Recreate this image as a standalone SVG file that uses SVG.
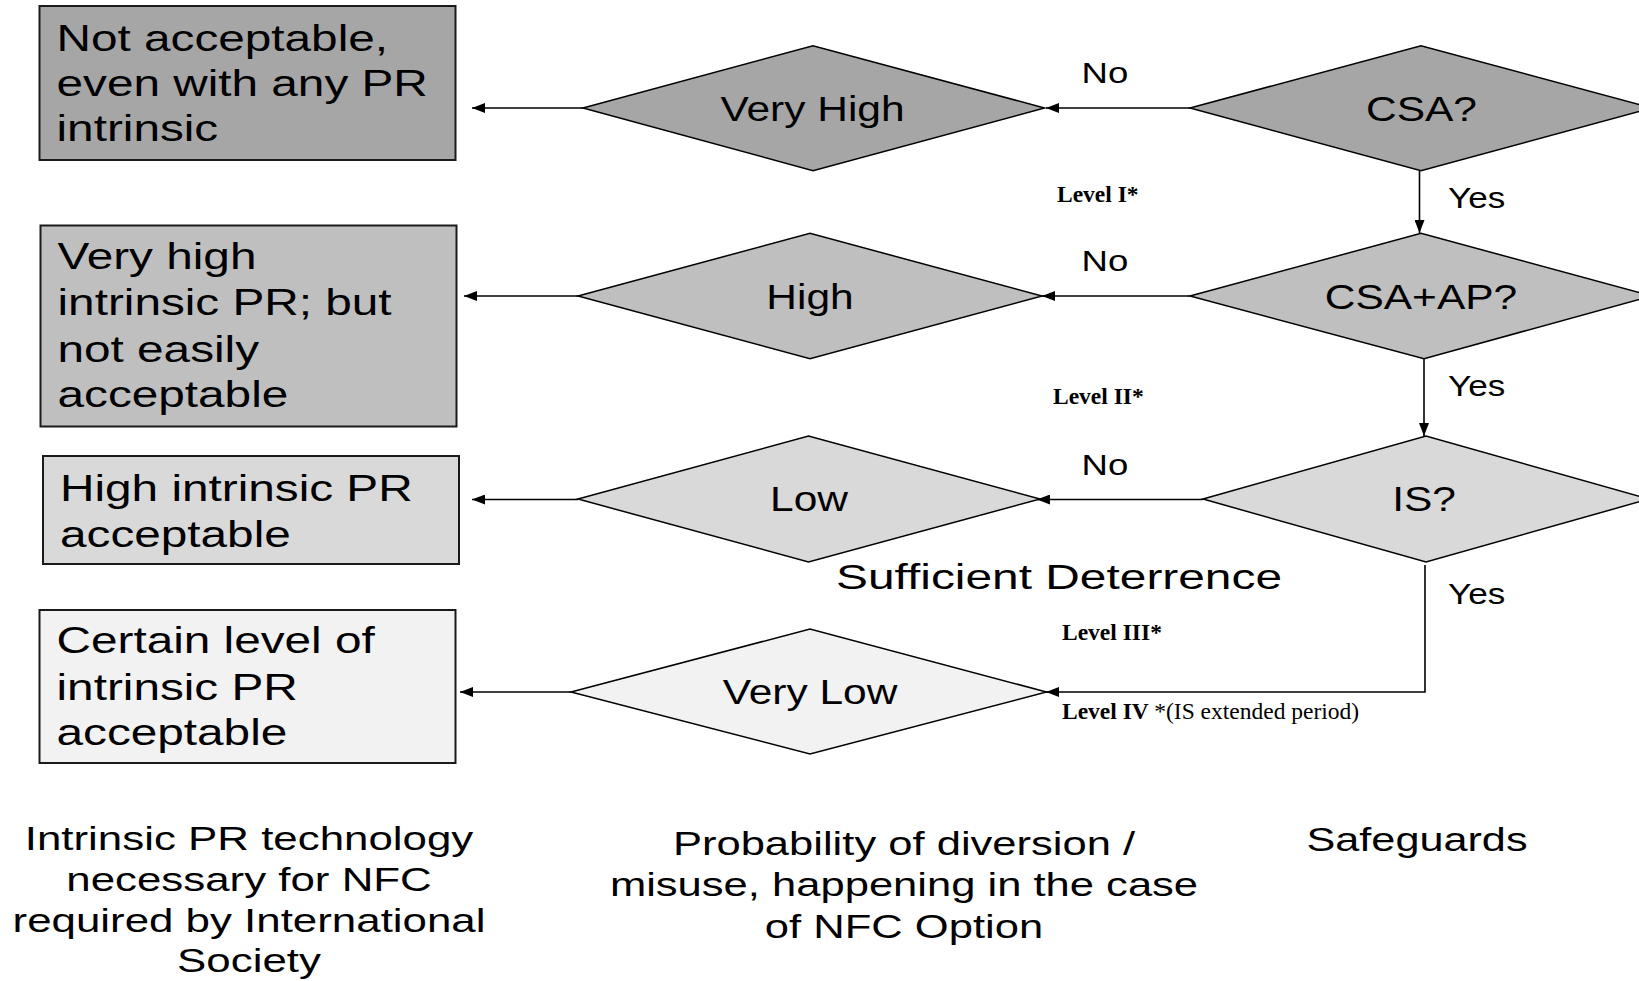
<svg xmlns="http://www.w3.org/2000/svg" width="1639" height="981" viewBox="0 0 1639 981">
<style>
.box{stroke:#1a1a1a;stroke-width:2}
.dia{stroke:#000;stroke-width:1.5}
.t{font-family:"Liberation Sans",Arial,sans-serif;fill:#000}
.bt{font-size:37px}
.dt{font-size:36px;text-anchor:middle}
.yn{font-size:30px}
.lv{font-family:"Liberation Serif","Times New Roman",serif;font-weight:bold;font-size:23.5px;fill:#000}
.conn{stroke:#000;stroke-width:1.6;fill:none;marker-end:url(#ah)}
.c1{fill:#a6a6a6}.c2{fill:#bfbfbf}.c3{fill:#d9d9d9}.c4{fill:#f2f2f2}
</style>
<defs>
<marker id="ah" markerUnits="userSpaceOnUse" markerWidth="14" markerHeight="10" refX="13" refY="5" orient="auto">
<path d="M0,0 L13,5 L0,10 z" fill="#000"/>
</marker>
</defs>
<rect width="1639" height="981" fill="#fff"/>

<g id="connectors">
<line class="conn" x1="1190" y1="108" x2="1046" y2="108"/>
<line class="conn" x1="583" y1="108" x2="472" y2="108"/>
<line class="conn" x1="1190" y1="296" x2="1042" y2="296"/>
<line class="conn" x1="578" y1="296" x2="464" y2="296"/>
<line class="conn" x1="1203" y1="499.5" x2="1037" y2="499.5"/>
<line class="conn" x1="578" y1="499.5" x2="472" y2="499.5"/>
<polyline class="conn" points="1425,565 1425,692 1046,692"/>
<line class="conn" x1="571" y1="692" x2="460" y2="692"/>
<line class="conn" x1="1419.5" y1="171" x2="1419.5" y2="233"/>
<line class="conn" x1="1424" y1="359" x2="1424" y2="436"/>
</g>

<g id="box1">
<rect class="box c1" x="39.5" y="6" width="416" height="154"/>
<text class="t bt" transform="translate(56.5,50.7) scale(1.29,1)"><tspan x="0" y="0">Not acceptable,</tspan><tspan x="0" y="45.3">even with any PR</tspan><tspan x="0" y="90.8">intrinsic</tspan></text>
</g>
<g id="box2">
<rect class="box c2" x="40.5" y="225.5" width="416" height="201"/>
<text class="t bt" transform="translate(57.5,269.3) scale(1.29,1)"><tspan x="0" y="0">Very high</tspan><tspan x="0" y="45.7">intrinsic PR; but</tspan><tspan x="0" y="92.4">not easily</tspan><tspan x="0" y="138">acceptable</tspan></text>
</g>
<g id="box3">
<rect class="box c3" x="43" y="456" width="416" height="108"/>
<text class="t bt" transform="translate(60,501) scale(1.29,1)"><tspan x="0" y="0">High intrinsic PR</tspan><tspan x="0" y="45.7">acceptable</tspan></text>
</g>
<g id="box4">
<rect class="box c4" x="39.5" y="610" width="416" height="153"/>
<text class="t bt" transform="translate(56.5,653.3) scale(1.29,1)"><tspan x="0" y="0">Certain level of</tspan><tspan x="0" y="46.7">intrinsic PR</tspan><tspan x="0" y="91.7">acceptable</tspan></text>
</g>

<g id="veryhigh">
<polygon class="dia c1" points="583,108 813,45.7 1044.5,108 813,170.7"/>
<text class="t dt" transform="translate(812.5,120.7) scale(1.18,1)">Very High</text>
</g>
<g id="csa">
<polygon class="dia c1" points="1190,108 1421,45.7 1652,108 1421,170.7"/>
<text class="t dt" transform="translate(1421.5,121) scale(1.18,1)">CSA?</text>
</g>
<g id="high">
<polygon class="dia c2" points="578,296 810,233.3 1042,296 810,358.7"/>
<text class="t dt" transform="translate(810,308.8) scale(1.18,1)">High</text>
</g>
<g id="csaap">
<polygon class="dia c2" points="1190,296 1421,233.3 1652,296 1424,358.7"/>
<text class="t dt" transform="translate(1421,308.8) scale(1.18,1)">CSA+AP?</text>
</g>
<g id="low">
<polygon class="dia c3" points="578,499 808.5,436 1040,499 808.5,562"/>
<text class="t dt" transform="translate(809,511) scale(1.18,1)">Low</text>
</g>
<g id="is">
<polygon class="dia c3" points="1203,499 1426,436 1649,499 1426,562"/>
<text class="t dt" transform="translate(1424,511) scale(1.18,1)">IS?</text>
</g>
<g id="verylow">
<polygon class="dia c4" points="571,692 810,629 1046.5,692 810,754"/>
<text class="t dt" transform="translate(810,704) scale(1.18,1)">Very Low</text>
</g>

<g id="labels">
<text class="t yn" text-anchor="middle" transform="translate(1105,83) scale(1.22,1)">No</text>
<text class="t yn" text-anchor="middle" transform="translate(1105,271) scale(1.22,1)">No</text>
<text class="t yn" text-anchor="middle" transform="translate(1105,475) scale(1.22,1)">No</text>
<text class="t yn" transform="translate(1448,207.5) scale(1.17,1)">Yes</text>
<text class="t yn" transform="translate(1448,395.5) scale(1.17,1)">Yes</text>
<text class="t yn" transform="translate(1448,604) scale(1.17,1)">Yes</text>
<text class="lv" x="1057" y="202">Level I*</text>
<text class="lv" x="1053" y="404">Level II*</text>
<text class="lv" x="1062" y="640">Level III*</text>
<text class="lv" x="1062" y="719">Level IV <tspan font-weight="normal">*(IS extended period)</tspan></text>
<text class="t" font-size="36" text-anchor="middle" transform="translate(1059,589) scale(1.33,1)">Sufficient Deterrence</text>
</g>

<g id="captions">
<text class="t" font-size="34" text-anchor="middle" transform="translate(249,849.5) scale(1.29,1)"><tspan x="0" y="0">Intrinsic PR technology</tspan><tspan x="0" y="41.3">necessary for NFC</tspan><tspan x="0" y="82.6">required by International</tspan><tspan x="0" y="123">Society</tspan></text>
<text class="t" font-size="33" text-anchor="middle" transform="translate(904,855) scale(1.32,1)"><tspan x="0" y="0">Probability of diversion /</tspan><tspan x="0" y="41.5">misuse, happening in the case</tspan><tspan x="0" y="83">of NFC Option</tspan></text>
<text class="t" font-size="33" text-anchor="middle" transform="translate(1417,851) scale(1.31,1)">Safeguards</text>
</g>
</svg>
